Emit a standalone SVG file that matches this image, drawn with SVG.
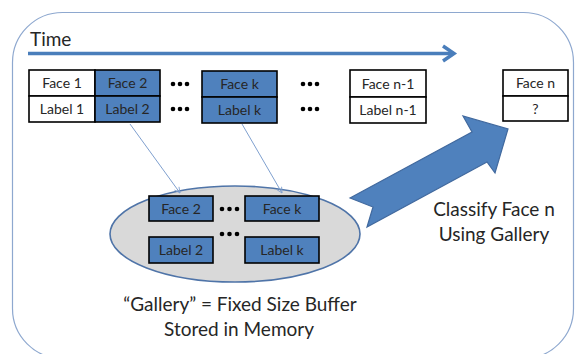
<svg xmlns="http://www.w3.org/2000/svg" width="575" height="354" viewBox="0 0 575 354">
  <style>
    text { font-family: Lato, "Open Sans", "Liberation Sans", sans-serif; fill: #262626; }
    .cell { font-size: 14px; text-anchor: middle; }
    .big { font-size: 19px; text-anchor: middle; }
    .white { fill: #ffffff; stroke: #000000; stroke-width: 1.6; }
    .blue { fill: #4F81BD; stroke: #000000; stroke-width: 1.6; }
    .dot { fill: #000000; }
    .link { stroke: #7FA0CF; stroke-width: 1; fill: none; }
  </style>
  <defs>
    <marker id="tip" viewBox="0 0 10 10" refX="9" refY="5" markerWidth="7" markerHeight="7" orient="auto" markerUnits="userSpaceOnUse">
      <path d="M1,1 L9,5 L1,9" fill="none" stroke="#7FA0CF" stroke-width="1.2"/>
    </marker>
  </defs>

  <rect width="575" height="354" fill="#ffffff"/>

  <!-- outer frame -->
  <rect x="12.5" y="12.5" width="561" height="346" rx="50" ry="50" fill="none" stroke="#8EA8CF" stroke-width="1.2"/>

  <!-- time axis -->
  <g id="time">
    <text x="30" y="46" style="font-size:19px">Time</text>
    <line x1="28" y1="53.5" x2="453" y2="53.5" stroke="#4A7EBB" stroke-width="3.5"/>
    <path d="M443,46 L454,53.5 L443,61" fill="none" stroke="#4A7EBB" stroke-width="3.5" stroke-linejoin="miter"/>
  </g>

  <!-- stream of faces -->
  <g id="face1">
    <rect class="white" x="29" y="70" width="66" height="26"/>
    <rect class="white" x="29" y="96" width="66" height="26"/>
    <text class="cell" x="62" y="88">Face 1</text>
    <text class="cell" x="62" y="114">Label 1</text>
  </g>
  <g id="face2">
    <rect class="blue" x="95" y="70" width="65" height="26"/>
    <rect class="blue" x="95" y="96" width="65" height="26"/>
    <text class="cell" x="127.5" y="88">Face 2</text>
    <text class="cell" x="127.5" y="114">Label 2</text>
  </g>
  <g id="dots1">
    <circle class="dot" cx="173" cy="84" r="2.3"/><circle class="dot" cx="180" cy="84" r="2.3"/><circle class="dot" cx="187" cy="84" r="2.3"/>
    <circle class="dot" cx="173" cy="109" r="2.3"/><circle class="dot" cx="180" cy="109" r="2.3"/><circle class="dot" cx="187" cy="109" r="2.3"/>
  </g>
  <g id="facek">
    <rect class="blue" x="202" y="71" width="75" height="26"/>
    <rect class="blue" x="202" y="97" width="75" height="26"/>
    <text class="cell" x="239.5" y="89">Face k</text>
    <text class="cell" x="239.5" y="115">Label k</text>
  </g>
  <g id="dots2">
    <circle class="dot" cx="303" cy="84" r="2.3"/><circle class="dot" cx="310" cy="84" r="2.3"/><circle class="dot" cx="317" cy="84" r="2.3"/>
    <circle class="dot" cx="303" cy="109" r="2.3"/><circle class="dot" cx="310" cy="109" r="2.3"/><circle class="dot" cx="317" cy="109" r="2.3"/>
  </g>
  <g id="facen1">
    <rect class="white" x="350" y="70" width="76" height="27"/>
    <rect class="white" x="350" y="97" width="76" height="26"/>
    <text class="cell" x="388" y="88.5">Face n-1</text>
    <text class="cell" x="388" y="115">Label n-1</text>
  </g>
  <g id="facen">
    <rect class="white" x="503" y="70" width="65" height="26"/>
    <rect class="white" x="503" y="96" width="65" height="25"/>
    <text class="cell" x="535.5" y="88">Face n</text>
    <text class="cell" x="535.5" y="113.5">?</text>
  </g>

  <!-- gallery -->
  <g id="gallery">
    <ellipse cx="235" cy="234" rx="125" ry="48" fill="#D9D9D9" stroke="#4F74A8" stroke-width="1.6"/>
    <rect class="blue" x="149" y="196" width="64" height="25"/>
    <text class="cell" x="181" y="213.5">Face 2</text>
    <rect class="blue" x="245" y="196" width="74" height="25"/>
    <text class="cell" x="282" y="213.5">Face k</text>
    <rect class="blue" x="149" y="237" width="64" height="26"/>
    <text class="cell" x="181" y="255">Label 2</text>
    <rect class="blue" x="245" y="237" width="74" height="26"/>
    <text class="cell" x="282" y="255">Label k</text>
    <circle class="dot" cx="222" cy="209" r="2.3"/><circle class="dot" cx="229.5" cy="209" r="2.3"/><circle class="dot" cx="237" cy="209" r="2.3"/>
    <circle class="dot" cx="222" cy="234" r="2.3"/><circle class="dot" cx="229.5" cy="234" r="2.3"/><circle class="dot" cx="237" cy="234" r="2.3"/>
  </g>
  <g id="gallery-caption">
    <text class="big" x="240" y="311">“Gallery” = Fixed Size Buffer</text>
    <text class="big" x="239" y="336">Stored in Memory</text>
  </g>

  <!-- connectors -->
  <g id="connectors">
    <line class="link" x1="130" y1="124" x2="180" y2="193" marker-end="url(#tip)"/>
    <line class="link" x1="242" y1="124" x2="282" y2="193" marker-end="url(#tip)"/>
    <polygon id="classify-arrow" points="350,198 472,132 463,116 508,129 495,173 487,162 367,227 373,207" fill="#4F81BD" stroke="#41699E" stroke-width="1.2" stroke-linejoin="miter"/>
  </g>

  <g id="classify-label">
    <text class="big" x="494" y="216">Classify Face n</text>
    <text class="big" x="494" y="241">Using Gallery</text>
  </g>
</svg>
